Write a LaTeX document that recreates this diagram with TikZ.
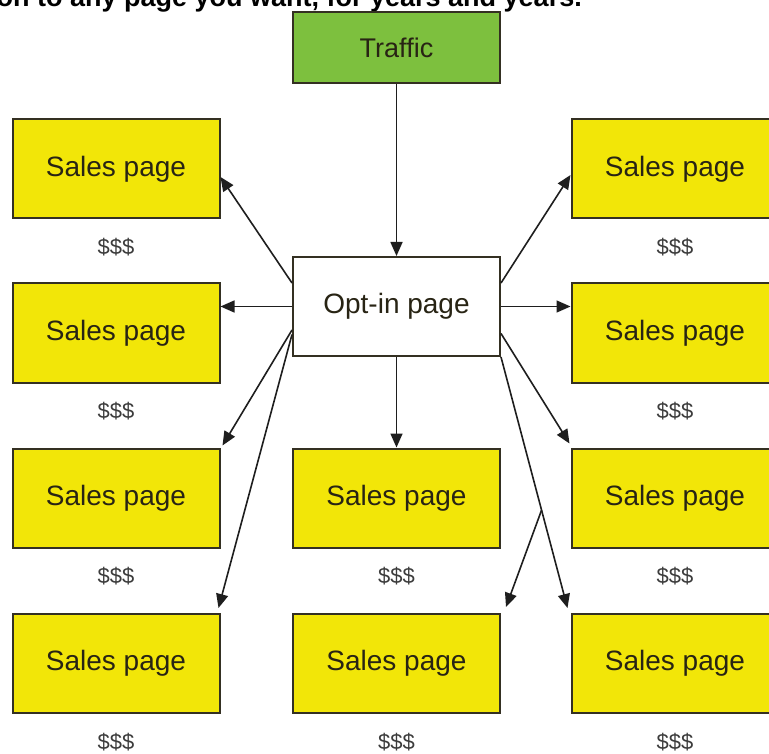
\documentclass[tikz,border=0pt]{standalone}
\usepackage{fontspec}
\setmainfont{Liberation Sans}
\usetikzlibrary{arrows.meta,calc}

\definecolor{salesfill}{RGB}{242,230,8}
\definecolor{trafficfill}{RGB}{125,192,62}
\definecolor{boxline}{RGB}{52,48,34}
\definecolor{boxtext}{RGB}{40,36,20}
\definecolor{linkcol}{RGB}{30,30,30}
\definecolor{moneycol}{RGB}{60,60,60}

\tikzset{
  pagebox/.style={draw=boxline, line width=2pt, inner sep=0pt,
    minimum width=207pt, minimum height=99pt, text=boxtext,
    font=\fontsize{28}{32}\selectfont},
  salesbox/.style={pagebox, fill=salesfill},
  trafficbox/.style={pagebox, fill=trafficfill, minimum height=71pt,
    font=\fontsize{27}{31}\selectfont},
  optbox/.style={pagebox, fill=white},
  money/.style={text=moneycol, inner sep=0pt, font=\fontsize{22}{24}\selectfont},
  link/.style={draw=linkcol, line width=1.6pt,
    -{Triangle[length=14pt,width=12pt]}},
}

\begin{document}
\begin{tikzpicture}[x=1pt,y=-1pt]
  \useasboundingbox (0,0) rectangle (769,754);
  \clip (0,0) rectangle (769,754);

  % caption line running in from above
  \node[anchor=base east, inner sep=0pt, font=\bfseries\fontsize{27}{30}\selectfont]
    (caption) at (582,7) {on to any page you want, for years and years.};

  % source and opt-in page
  \node[trafficbox] (traffic) at (396.5,47.5) {Traffic};
  \node[optbox] (opt) at (396.5,306.5) {Opt-in page};

  % grid of sales pages
  \foreach \r/\y in {1/169,2/333,3/498,4/663.5}{
    \node[salesbox] (L\r) at (116,\y) {Sales page};
    \node[money] (mL\r) at ($(L\r.south)+(0,28)$) {\$\$\$};
    \node[salesbox] (R\r) at (675,\y) {Sales page};
    \node[money] (mR\r) at ($(R\r.south)+(0,28)$) {\$\$\$};
  }
  \foreach \r/\y in {3/498,4/663.5}{
    \node[salesbox] (M\r) at (396.5,\y) {Sales page};
    \node[money] (mM\r) at ($(M\r.south)+(0,28)$) {\$\$\$};
  }

  % connectors
  \draw[link] (traffic.south) -- (opt.north);
  \draw[link] ([yshift=23.5pt]opt.west) -- ([yshift=-8pt]L1.east);
  \draw[link] (opt.west) -- (opt.west -| L2.east);
  \draw[link] (opt.east) -- (opt.east -| R2.west);
  \draw[link] ([yshift=23.5pt]opt.east) -- ([yshift=-6pt]R1.west);
  \draw[link] ([yshift=-23.5pt]opt.west) -- ([xshift=2pt,yshift=2pt]L3.north east);
  \draw[link] ([yshift=-28pt]opt.west) -- ([xshift=-2pt,yshift=5pt]L4.north east);
  \draw[link] (opt.south) -- (M3.north);
  \draw[link] ([yshift=-27pt]opt.east) -- ([xshift=-1pt,yshift=4pt]R3.north west);
  \coordinate (r4tip) at ([xshift=-3pt,yshift=5pt]R4.north west);
  \draw[link] (opt.south east) -- (r4tip);
  \coordinate (fork) at ($(opt.south east)!0.61!(r4tip)$);
  \draw[link] (fork) -- ([xshift=5pt,yshift=6pt]M4.north east);
\end{tikzpicture}
\end{document}
